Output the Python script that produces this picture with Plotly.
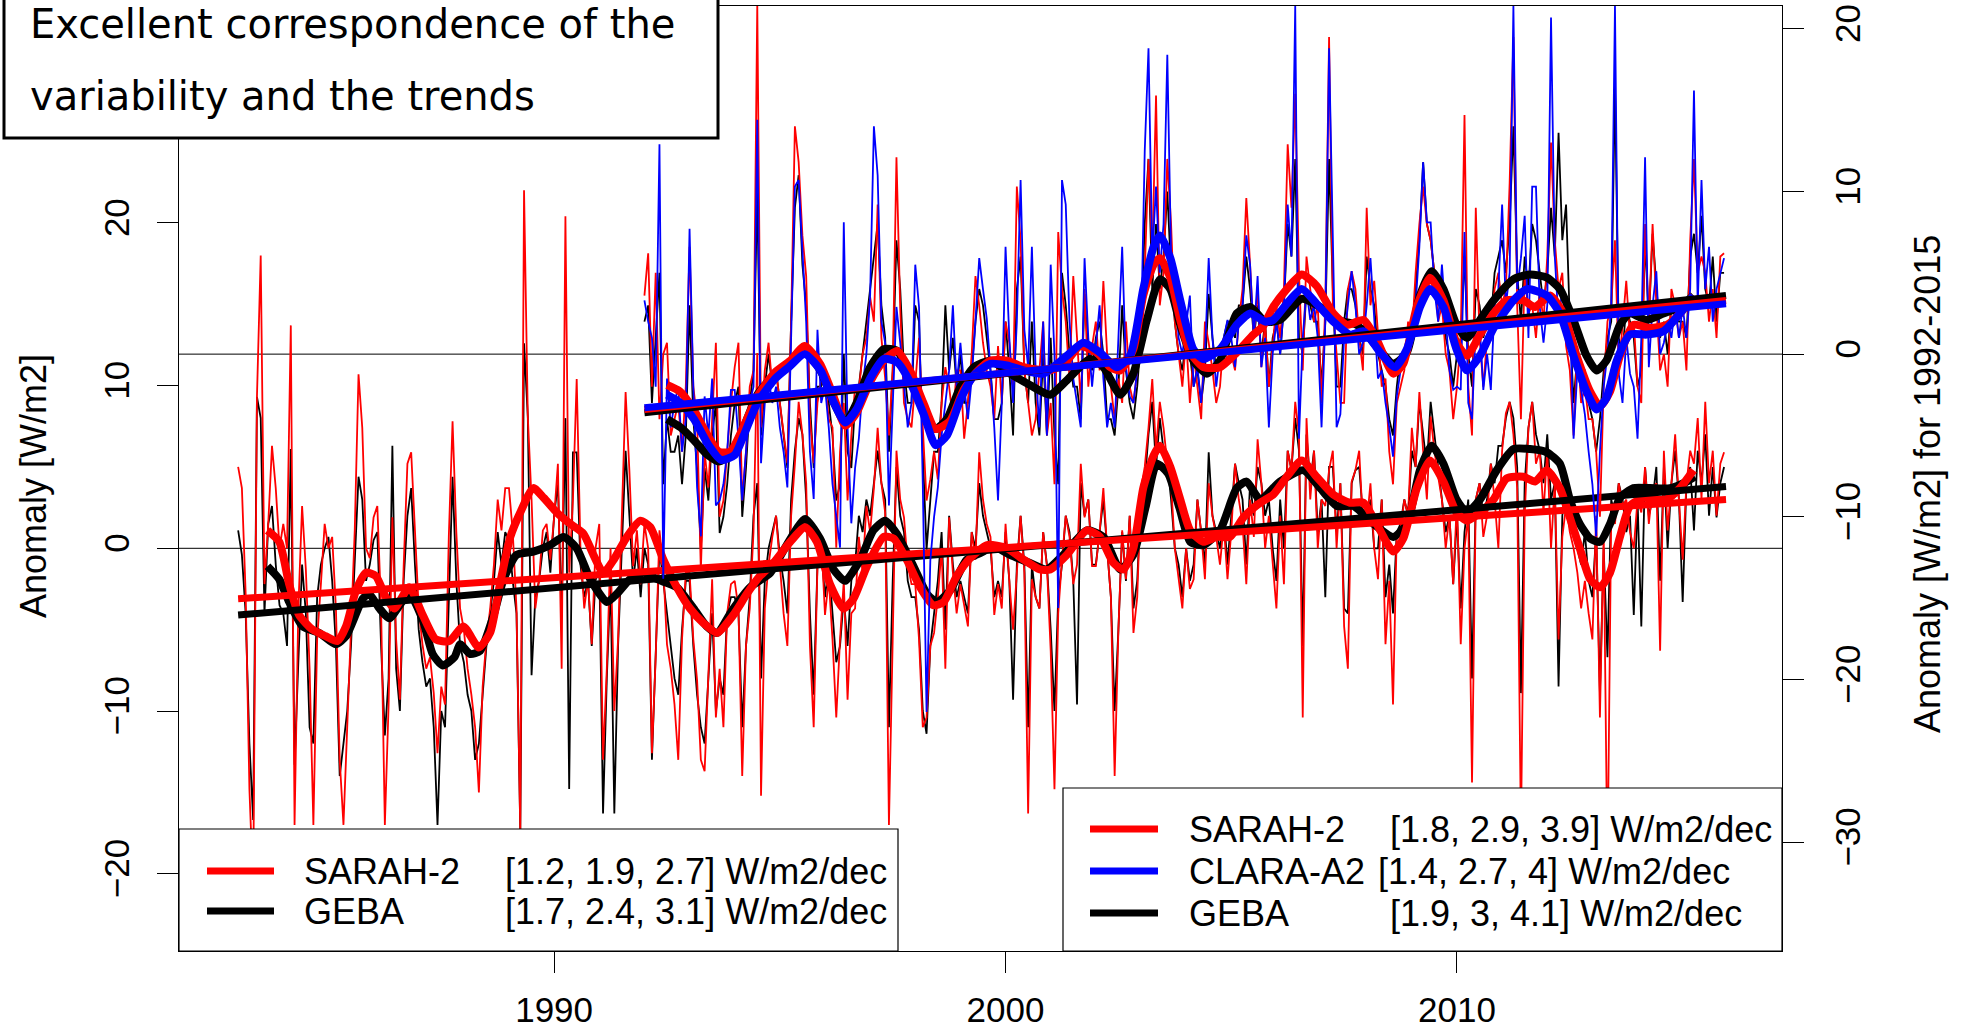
import plotly.graph_objects as go

# ---------------- data ----------------
LOW_START = 1983.0   # SARAH-2 / GEBA, left axis
UP_START = 1992.0    # SARAH-2 / CLARA-A2 / GEBA, right axis (anomaly for 1992-2015)

# monthly anomalies, one row per year (Jan..Dec), left axis
LOW_SARAH_ROWS = [
    [5.0, 3.7, -2.8, -14.8, -21.0, 9.3, 18.0, -2.2, 1.5, 6.3, 3.7, 0.0],
    [1.5, 0.0, 13.7, -17.0, -3.7, 2.6, -1.3, -7.4, -17.0, -5.6, -2.2, 1.5],
    [0.0, 0.7, -3.7, -13.0, -17.0, -11.0, -5.6, 1.1, 10.7, 7.4, 0.0, -0.6],
    [1.9, 2.6, -3.7, -17.0, -9.6, 1.9, -5.6, -9.3, -1.1, 5.2, 5.9, 1.5],
    [-3.7, -5.9, -7.4, -6.7, -8.9, -12.6, -8.5, -9.6, 0.7, 7.8, 1.0, -3.7],
    [-5.0, -7.4, -9.0, -11.0, -15.0, -8.5, -5.6, -3.7, -1.0, 3.0, 1.1, 3.7],
    [3.7, 1.0, -3.7, -17.4, 22.0, 8.1, 3.0, -3.7, -1.9, 1.1, 1.5, -0.7],
    [1.9, 5.2, -7.4, 20.4, -1.5, 3.0, 10.4, 0.0, -3.7, -1.9, -5.9, 0.0],
    [1.5, -13.0, -7.4, 0.0, -10.0, -5.6, 2.2, 9.6, 4.8, -1.1, 1.1, -2.2],
    [1.5, 0.0, -12.6, -6.7, 1.1, -1.1, -5.9, -7.4, -9.6, -13.0, -5.6, -1.5],
    [-1.5, -5.6, -8.1, -13.0, -13.7, -7.4, -1.9, -10.4, -7.4, -11.0, -4.0, -2.2],
    [-2.0, -3.7, -14.0, -6.0, -3.7, 1.0, 12.0, -15.2, -3.7, -1.0, 0.7, 2.0],
    [-1.0, -4.0, -6.0, 2.0, 5.2, 9.0, 7.0, 4.0, -6.0, -11.0, -1.1, 0.7],
    [-4.1, -1.9, -5.6, -10.4, -5.6, -2.0, -9.3, -4.0, -3.7, 0.7, -1.5, 2.6],
    [1.0, 3.7, 7.4, 4.0, 2.2, -17.0, -5.6, 6.0, 3.0, 1.9, -1.0, -2.2],
    [-2.2, -5.6, -11.0, -10.4, -6.0, -5.2, -3.0, 0.0, -7.4, 1.9, -1.5, -4.0],
    [-2.2, -3.5, -4.8, 1.0, -0.7, 5.9, 3.0, 1.5, 0.7, -4.1, -2.2, -3.7],
    [1.5, -2.0, -5.0, -1.5, 2.0, -1.5, -16.3, -1.9, -3.0, -3.7, 1.0, -1.1],
    [-6.3, -14.8, -4.0, -0.7, 2.0, 0.7, -2.2, -1.0, 5.2, 1.9, 3.0, -1.1],
    [-1.1, 1.0, 3.7, 0.0, -3.0, -14.0, -5.0, 1.1, -1.9, 2.0, -5.2, -3.0],
    [3.7, 5.0, 7.4, 10.4, 6.0, 9.0, 7.4, 5.2, 4.0, 0.0, -2.0, -3.7],
    [0.0, -2.5, -1.9, 3.0, 1.0, -1.9, 4.0, 2.0, 0.7, -1.0, 1.5, -1.9],
    [1.0, 5.2, 3.0, 1.5, -2.2, 3.0, 0.7, 6.7, 4.0, 0.0, 2.0, -1.0],
    [-3.7, 2.0, -2.2, 6.0, 4.8, 9.0, 7.0, -10.4, 8.0, 3.0, 6.0, 0.0],
    [3.0, 2.6, 4.8, 6.0, 0.0, 4.0, -4.8, -7.4, 4.1, 4.8, 6.0, 1.5],
    [1.5, 4.0, 0.0, -1.9, 3.0, -5.9, -2.0, -9.6, 1.0, 1.1, 3.0, 2.0],
    [7.4, 5.0, 9.6, 6.0, 3.0, 8.1, 6.0, 4.4, 3.0, 0.0, 2.0, -2.2],
    [3.0, -5.9, 0.0, 2.0, -14.4, 3.0, 4.0, 0.7, 2.0, 5.2, 3.0, 0.0],
    [6.0, 8.3, 9.0, 7.0, 3.7, -17.4, 2.0, 7.4, 9.0, 5.2, 6.0, 2.2],
    [6.0, 0.0, 4.0, -5.6, 0.7, 2.6, 1.0, 0.0, -1.5, -3.7, -2.0, -4.0],
    [-5.6, 2.0, -10.4, 1.0, -20.0, 1.9, 1.5, 4.0, 2.6, 3.0, 1.0, 0.0],
    [3.0, 2.2, 5.0, 1.5, 3.7, 4.0, -6.3, 6.0, 1.1, 4.0, 7.0, 3.0],
    [-0.7, 4.0, 6.0, 5.2, 8.0, 3.0, 9.0, 4.0, 6.0, 2.0, 5.2, 5.9],
]
LOW_GEBA_ROWS = [
    [1.1, -0.4, -4.0, -12.0, -16.7, 9.3, 8.0, -4.0, 1.5, 2.6, -1.0, -3.5],
    [-4.0, -6.0, 6.1, -13.3, -7.0, -1.0, -4.0, -11.0, -12.0, -3.0, -1.0, 0.0],
    [0.7, -2.0, -6.0, -14.0, -12.0, -10.0, -6.0, -1.0, 4.4, 3.0, -2.0, -1.0],
    [0.5, 1.0, -6.0, -11.5, -8.0, 6.3, -7.4, -10.0, -2.0, 2.0, 3.7, -1.0],
    [-5.0, -7.0, -8.5, -8.0, -11.0, -17.0, -10.0, -11.0, -3.0, 4.4, -2.0, -6.0],
    [-7.0, -9.0, -10.0, -13.0, -12.0, -9.0, -6.0, -4.0, -2.0, 1.0, -1.0, 1.0],
    [0.5, -2.0, -4.0, -17.4, 12.6, 8.1, -7.8, -3.0, -2.0, 0.0, 1.0, -1.5],
    [2.0, 4.0, -4.0, 8.0, -14.8, 5.9, 5.9, -1.0, -3.0, -2.0, -6.0, -2.0],
    [-1.0, -16.3, -8.0, -2.0, -16.3, -6.0, 0.0, 6.0, 2.0, -2.0, 0.0, -3.0],
    [0.0, -1.0, -13.0, -6.0, 0.0, -2.0, -4.0, -6.0, -8.0, -9.0, -5.0, -2.0],
    [-2.0, -6.0, -9.0, -11.0, -12.0, -8.0, -4.0, -10.0, -8.0, -9.0, -4.0, -3.0],
    [-3.0, -4.0, -11.0, -6.0, -3.0, 2.0, 4.0, -8.0, -2.0, 0.0, 1.0, 2.0],
    [-0.5, -2.0, -4.0, 3.0, 6.0, 8.0, 7.0, 3.0, -4.0, -9.0, -1.0, 0.0],
    [-3.0, -1.0, -4.0, -7.0, -6.0, -3.0, -6.0, -2.0, -1.0, 2.0, 1.0, 3.0],
    [2.0, 4.0, 6.0, 4.0, 3.0, -11.0, -2.0, 5.0, 2.0, 1.0, -2.0, -3.0],
    [-3.0, -5.0, -10.0, -11.4, -6.0, -4.0, -2.0, 1.0, -5.0, 2.0, -1.0, -3.0],
    [-2.0, -3.0, -4.0, 1.0, 0.0, 4.0, 2.0, 1.0, 0.0, -3.0, -2.0, -3.0],
    [1.0, -2.0, -9.3, -1.0, 2.0, -1.0, -11.0, -1.0, -3.0, -3.7, 1.0, -1.0],
    [-5.0, -10.0, -3.0, -1.0, 2.0, 1.0, -2.0, -9.6, 4.0, 2.0, 3.0, -1.0],
    [-1.0, 1.0, 3.0, 0.0, -3.0, -10.0, -5.0, 1.0, -2.0, 2.0, -3.7, -2.0],
    [3.0, 4.0, 7.0, 9.0, 5.0, 8.0, 6.0, 5.2, 3.0, 0.0, -1.0, -3.0],
    [0.0, -2.0, -1.0, 3.0, 1.0, -1.0, 5.9, 2.0, 1.0, 0.0, 2.0, -1.0],
    [2.0, 5.2, 4.0, 3.0, -1.0, 4.0, 2.0, 5.0, 4.0, 2.0, 3.0, 0.0],
    [-2.0, 3.0, 0.0, 6.0, 4.8, 8.0, 6.0, -6.0, 7.0, 4.0, 6.0, 1.0],
    [3.0, -3.0, 5.0, 5.0, 1.0, 4.0, -3.7, -4.0, 4.0, 4.8, 5.0, 2.0],
    [1.5, 3.0, 0.0, 0.0, 3.0, -3.0, -1.0, -4.0, 1.0, 1.5, 3.0, 2.0],
    [6.0, 5.0, 9.0, 7.0, 5.0, 9.0, 7.0, 5.0, 3.0, 1.0, 2.0, -2.2],
    [2.0, -3.7, 1.0, 3.0, -8.0, 3.0, 4.0, 2.0, 3.0, 5.2, 4.0, 6.3],
    [6.3, 8.0, 9.0, 8.0, 5.0, -8.9, 4.0, 7.4, 9.0, 7.0, 6.0, 4.0],
    [7.0, 3.0, 4.0, -8.5, 2.0, 4.0, 1.5, 1.0, 0.0, -1.0, 1.0, -2.0],
    [-3.0, 1.0, -8.9, 0.0, -6.7, 3.0, 2.0, 4.0, 3.0, 1.0, 2.0, -4.1],
    [3.0, -4.8, 5.0, 2.0, 3.0, 5.0, -2.0, 5.0, 0.0, 4.0, 6.0, 3.0],
    [-3.3, 4.0, 5.0, 1.1, 6.0, 4.0, 7.0, 2.0, 5.0, 1.9, 4.0, 5.0],
]
# monthly anomalies, right axis
UP_SARAH_ROWS = [
    [3.6, 6.2, -2.0, 5.0, -4.0, 0.0, 0.7, -5.0, -4.0, -3.0, -6.0, -2.0],
    [6.6, -2.0, -4.0, -13.3, -6.0, -8.2, -4.0, 0.7, -10.0, -9.0, -6.0, -3.0],
    [-0.8, 0.7, -9.0, -6.0, -2.0, -1.0, 21.5, -4.5, -1.0, 0.7, -2.0, -1.0],
    [-3.0, -5.0, -6.7, 2.0, 14.0, 11.8, 7.3, 4.8, -4.0, -6.7, -3.0, -1.5],
    [-1.5, -4.0, -4.5, -11.9, -6.0, -3.0, -9.0, -5.0, -2.0, -2.2, 0.0, 1.0],
    [3.5, 2.0, 9.2, 1.0, -1.5, -5.0, -1.0, 12.1, 2.8, -3.0, -4.0, -4.5],
    [-2.0, 1.0, -4.5, -9.0, -7.7, -6.0, -7.7, -3.0, -0.8, -2.0, -4.0, -1.0],
    [-1.0, -5.2, -3.0, 0.0, 4.8, 3.0, 0.7, -1.0, -2.0, -4.0, 0.5, -3.0],
    [2.0, 0.7, -2.0, 10.3, 7.0, -1.0, -3.0, -5.0, -4.0, -1.0, 2.0, -5.0],
    [-3.0, -8.0, 7.5, 4.0, 2.0, -1.5, 4.8, 1.0, -3.0, 4.0, -2.0, 0.5],
    [2.0, -1.0, 4.5, 0.0, -2.0, -4.0, -1.5, -3.0, 2.0, -2.0, -3.0, -1.0],
    [0.0, 5.0, 12.0, 6.0, 15.9, 3.0, 5.0, 12.0, 8.0, 2.0, 0.0, -2.0],
    [1.0, -3.0, 0.0, -2.0, -4.0, 2.0, 0.7, -1.0, -3.0, -2.0, 1.0, -0.5],
    [0.0, -1.0, 2.0, 4.0, 9.6, 5.5, 1.0, 4.0, -0.8, 2.0, -2.0, 0.5],
    [3.0, 1.0, 4.0, 12.9, 9.0, 16.0, 5.0, -1.0, 6.0, 4.0, 2.0, 3.0],
    [-3.0, 3.0, 19.5, 3.0, 0.0, -3.0, -3.0, 4.0, 5.1, 4.0, 1.0, -1.0],
    [9.0, 3.0, 4.5, 1.0, -2.0, -1.5, -6.0, -8.0, -3.0, -2.0, -1.0, 2.0],
    [1.0, 5.0, 8.0, 10.3, 8.0, 7.0, 5.0, 2.0, 3.0, 0.0, -1.0, -4.0],
    [-2.0, 1.0, 14.7, -2.0, -5.0, 9.0, 1.0, -2.0, 1.0, 1.5, 4.0, 5.0],
    [3.0, 4.0, 10.5, 19.5, 3.0, -4.0, 5.0, 2.5, 3.0, 1.0, 4.0, 2.0],
    [6.0, 13.0, 7.0, 4.0, 5.0, 0.5, -1.0, -5.0, 0.5, -3.0, -2.0, -4.0],
    [-4.0, -6.0, -10.0, -2.0, 2.0, 3.0, 7.0, -1.0, 2.0, 4.5, 1.0, 2.0],
    [-2.0, -3.0, 8.0, 2.0, 8.0, 3.0, -1.0, 0.0, -2.0, 4.0, 3.0, 1.0],
    [2.0, -1.0, 7.0, 12.0, 5.0, 6.0, 5.0, 2.0, 4.0, 1.0, 6.0, 6.2],
]
UP_CLARA_ROWS = [
    [3.3, 2.0, 1.0, -2.0, 12.9, -13.8, -1.5, -4.5, -3.0, -2.0, -6.0, -4.0],
    [7.7, -2.0, -8.2, -11.2, -2.6, -5.0, -1.5, -9.3, -9.0, -8.0, -6.0, -2.2],
    [-2.2, -5.2, -9.0, -6.0, -3.0, -2.0, 14.4, -6.7, -3.0, -1.5, -3.0, -2.0],
    [-4.5, -6.0, -8.2, 1.0, 10.3, 10.7, 6.6, 2.0, -6.0, -8.9, 1.5, -3.0],
    [-2.0, -4.5, -8.0, -10.0, -11.9, 8.1, -4.5, -10.4, -7.0, -5.2, -2.0, 0.0],
    [3.6, 14.0, 11.0, 2.0, 0.7, -9.3, -3.0, 2.9, 0.7, -2.0, -4.5, -3.0],
    [5.5, 2.9, -8.0, -22.0, -12.7, -10.0, -8.2, -5.0, -3.0, -1.0, 3.0, -2.0],
    [0.7, -2.0, -4.0, -1.5, 2.0, 5.9, 4.0, 2.2, -1.0, -4.5, -9.0, -3.0],
    [6.6, 1.0, -3.0, 2.0, 10.7, 1.5, -0.8, 6.6, -1.0, -4.5, 2.0, -5.0],
    [5.5, 0.0, -15.6, 10.7, 9.2, 2.0, -1.5, -3.0, -4.5, 5.9, 1.0, -2.0],
    [0.7, 3.0, -1.5, -4.5, -3.0, -4.5, 1.0, 6.6, -0.8, -2.6, -3.0, -1.0],
    [1.0, 12.5, 18.8, 6.0, 10.3, 5.0, 8.0, 18.4, 6.0, 4.8, 1.0, 0.0],
    [2.0, 3.6, -2.0, -0.8, -3.0, -0.1, 5.9, 1.0, -2.0, 0.0, 1.0, 2.1],
    [1.0, -0.8, 2.0, 3.0, 7.3, 5.5, 1.0, 4.8, -0.8, 1.0, -4.5, 0.0],
    [2.0, 0.0, 3.0, 9.2, 6.0, 21.4, -5.2, 1.0, 4.0, 2.1, 3.0, 1.0],
    [-4.5, 2.0, 18.8, 6.6, -4.5, -3.7, 1.0, 3.0, 5.1, 3.0, 0.0, 0.7],
    [3.0, 5.9, 2.0, -1.5, -1.0, -3.0, -4.5, -6.3, -2.6, -1.0, 0.0, 0.7],
    [0.7, 3.0, 6.6, 11.8, 8.1, 8.1, 4.0, 2.0, 5.5, 2.2, -1.0, -2.2],
    [-2.0, -2.2, 7.5, -3.0, -4.0, 1.8, 2.0, -2.2, 0.0, -2.2, 3.0, 4.0],
    [9.2, 3.0, 5.0, 21.4, 4.0, 5.9, 8.5, 1.0, 10.3, 10.3, 2.9, 0.7],
    [3.0, 20.7, 6.0, 2.0, 4.0, 1.4, 2.5, -5.2, -1.0, -2.2, -3.7, -6.0],
    [-8.0, -11.2, -6.0, -2.0, 0.0, 3.0, 21.4, -1.2, -3.0, 1.0, -1.2, -2.0],
    [-5.2, 1.0, 12.1, -0.8, 3.0, 5.1, 0.0, 0.7, 2.0, 1.0, 3.0, 1.0],
    [2.9, 1.0, 4.0, 16.2, 3.0, 10.7, 4.0, 6.6, 2.0, 4.0, 5.0, 5.9],
]
UP_GEBA_ROWS = [
    [2.0, 3.0, -3.0, 1.0, 5.0, -8.0, -4.0, -6.0, -6.0, -5.0, -8.0, -5.0],
    [3.0, -4.0, -7.0, -12.0, -7.0, -9.0, -5.0, -3.0, -11.0, -10.0, -8.0, -5.0],
    [-3.0, -2.0, -10.0, -7.0, -3.0, -1.0, 10.0, -5.0, -2.0, 0.0, -2.0, -1.0],
    [-3.0, -5.0, -7.0, 2.0, 9.0, 11.0, 5.5, 3.0, -3.0, -7.0, -2.0, -2.0],
    [-1.0, -3.0, -5.0, -9.0, -8.0, 0.0, -6.0, -7.0, -3.0, -2.0, 0.0, 2.0],
    [4.0, 6.0, 8.0, 3.0, 1.0, -6.0, -1.0, 7.0, 4.0, -1.0, -3.0, -3.0],
    [3.0, 2.0, -6.0, -12.0, -9.0, -6.0, -6.0, -3.0, 3.0, -1.0, 1.0, -2.0],
    [0.0, -3.0, -3.0, -1.0, 2.0, 4.0, 3.0, 1.0, -1.0, -4.0, -4.0, -3.0],
    [2.0, -1.0, -5.0, 4.0, 6.0, -1.0, -3.0, 2.0, -3.0, -5.0, 0.0, -5.0],
    [1.0, -5.0, -8.0, 5.0, 3.0, 0.0, -2.0, -2.0, -4.0, 3.7, 0.0, -1.0],
    [1.0, 2.0, 0.0, -4.0, -4.0, -5.0, -2.0, 3.0, -1.0, -3.0, -4.0, -2.0],
    [1.0, 8.0, 12.0, 4.0, 8.0, 4.0, 6.0, 10.0, 5.0, 2.0, 0.0, -1.0],
    [1.0, 0.0, -2.0, -1.0, -3.0, -1.0, 3.7, 1.0, -1.0, 0.0, 1.0, 2.0],
    [2.0, 1.0, 3.0, 3.0, 6.0, 4.0, 1.0, 3.0, 0.0, 2.0, -2.0, 1.0],
    [2.0, 0.0, 3.0, 8.0, 6.0, 12.0, 1.0, 0.0, 4.0, 3.0, 2.0, 2.0],
    [-2.0, 2.0, 12.0, 4.0, -2.0, -2.0, 2.0, 4.0, 4.0, 3.0, 1.0, 0.0],
    [6.0, 4.0, 3.0, 0.0, -1.0, -2.0, -4.0, -5.0, -2.0, 0.0, 0.0, 1.0],
    [1.0, 4.0, 7.0, 11.8, 8.0, 7.0, 5.0, 3.0, 4.0, 1.0, 0.0, -2.0],
    [0.0, 1.0, 6.0, 0.0, -2.0, 4.0, 3.0, 1.0, 2.0, 2.0, 5.0, 6.0],
    [7.0, 5.0, 8.0, 14.0, 5.0, 2.0, 6.0, 4.0, 8.0, 7.0, 5.0, 3.0],
    [5.0, 9.0, 6.0, 13.6, 7.0, 9.2, 2.0, -3.0, 0.0, -1.0, -1.0, -3.0],
    [-4.0, -6.0, -4.0, -1.0, 1.0, 2.0, 16.6, 1.0, 0.0, 3.0, 2.0, 1.0],
    [-2.0, -1.0, 7.0, 2.0, 7.4, 4.0, 1.0, 2.0, 0.0, 3.0, 3.0, 2.0],
    [2.0, 1.0, 6.0, 7.4, 5.0, 8.5, 4.0, 3.0, 6.0, 2.0, 5.0, 5.0],
]

# smoothed curves (year, value)
LOW_SARAH_SMOOTH = [
    (1983.65, 1.1), (1983.91, 0.4), (1984.13, -2.2), (1984.35, -4.1), (1984.65, -5.0), (1984.94, -5.4),
    (1985.2, -5.7), (1985.39, -4.8), (1985.61, -2.6), (1985.83, -1.5), (1986.05, -1.7), (1986.27, -3.0),
    (1986.46, -3.7), (1986.79, -2.4), (1987.09, -4.1), (1987.38, -5.6), (1987.68, -5.7), (1987.99, -4.8),
    (1988.33, -6.1), (1988.58, -5.2), (1988.8, -2.2), (1989.03, 0.7), (1989.25, 2.2), (1989.54, 3.7),
    (1989.77, 3.1), (1990.06, 2.2), (1990.36, 1.5), (1990.65, 0.9), (1990.87, -0.4), (1991.09, -1.5),
    (1991.32, -0.7), (1991.61, 0.7), (1991.91, 1.7), (1992.13, 1.3), (1992.42, -0.7), (1992.72, -2.4),
    (1993.01, -3.7), (1993.31, -4.6), (1993.61, -5.2), (1993.97, -4.1), (1994.27, -2.8), (1994.56, -1.7),
    (1994.86, -0.9), (1995.23, 0.4), (1995.56, 1.3), (1995.82, 0.4), (1996.11, -2.2), (1996.41, -3.7),
    (1996.63, -3.1), (1996.93, -1.1), (1997.3, 0.7), (1997.52, 0.6), (1997.81, -0.7), (1998.11, -2.4),
    (1998.4, -3.5), (1998.63, -3.3), (1998.92, -1.7), (1999.22, -0.6), (1999.59, 0.2), (2000.03, 0.0),
    (2000.4, -0.7), (2000.76, -1.3), (2000.99, -1.3), (2001.36, -0.4), (2001.8, 1.1), (2002.09, 0.7),
    (2002.39, -0.9), (2002.61, -1.3), (2002.83, 0.0), (2003.05, 3.7), (2003.28, 5.7), (2003.42, 6.3),
    (2003.65, 5.0), (2003.87, 3.0), (2004.09, 1.1), (2004.38, 0.4), (2004.68, 0.7), (2004.97, 0.7),
    (2005.27, 1.9), (2005.64, 2.8), (2005.93, 3.3), (2006.23, 4.4), (2006.56, 5.4), (2006.89, 4.4),
    (2007.26, 3.3), (2007.63, 2.8), (2007.93, 2.8), (2008.22, 1.5), (2008.59, -0.2), (2008.81, 0.6),
    (2009.11, 3.7), (2009.4, 5.4), (2009.7, 4.1), (2009.99, 2.2), (2010.22, 1.7), (2010.51, 2.2),
    (2010.81, 3.0), (2011.1, 4.3), (2011.47, 4.4), (2011.73, 4.1), (2011.99, 4.8), (2012.28, 3.7),
    (2012.5, 1.9), (2012.72, 0.0), (2012.95, -1.9), (2013.17, -2.4), (2013.39, -1.5), (2013.61, 0.7),
    (2013.83, 2.6), (2014.13, 3.1), (2014.42, 3.0), (2014.65, 3.0), (2014.94, 3.7), (2015.24, 4.8),
]
LOW_GEBA_SMOOTH = [
    (1983.65, -1.1), (1983.91, -1.9), (1984.13, -3.3), (1984.43, -4.8), (1984.8, -5.2), (1985.16, -5.9),
    (1985.39, -5.4), (1985.76, -3.1), (1985.9, -2.8), (1986.13, -3.7), (1986.35, -4.3), (1986.79, -2.8),
    (1987.09, -4.4), (1987.31, -6.5), (1987.53, -7.2), (1987.79, -6.7), (1987.92, -5.9), (1988.14, -6.5),
    (1988.36, -6.3), (1988.66, -4.1), (1988.88, -1.9), (1989.17, -0.4), (1989.54, -0.2), (1989.91, 0.2),
    (1990.21, 0.7), (1990.5, 0.0), (1990.8, -1.9), (1991.17, -3.3), (1991.39, -2.8), (1991.68, -1.9),
    (1991.98, -1.5), (1992.28, -1.9), (1992.72, -2.4), (1993.09, -3.7), (1993.38, -4.8), (1993.61, -5.2),
    (1993.97, -3.7), (1994.34, -2.4), (1994.79, -1.5), (1995.15, 0.2), (1995.56, 1.8), (1995.89, 0.6),
    (1996.19, -1.3), (1996.45, -2.0), (1996.78, -0.7), (1997.07, 1.1), (1997.33, 1.7), (1997.59, 0.9),
    (1997.96, -1.1), (1998.26, -2.8), (1998.48, -3.3), (1998.77, -2.6), (1999.14, -0.7), (1999.51, -0.2),
    (1999.66, 0.2), (2000.1, -0.4), (2000.54, -0.9), (2000.91, -1.3), (2001.28, -0.4), (2001.8, 1.1),
    (2002.17, 0.7), (2002.54, -1.3), (2002.83, -0.4), (2003.1, 2.5), (2003.35, 5.2), (2003.6, 4.6),
    (2003.85, 2.5), (2004.09, 0.4), (2004.38, 0.2), (2004.75, 1.1), (2005.12, 3.7), (2005.34, 4.1),
    (2005.64, 3.0), (2006.08, 4.1), (2006.6, 4.8), (2006.97, 3.7), (2007.34, 2.6), (2007.71, 2.6),
    (2008.15, 1.5), (2008.59, 0.7), (2008.89, 1.5), (2009.18, 4.8), (2009.44, 6.3), (2009.7, 5.2),
    (2009.99, 3.0), (2010.22, 2.2), (2010.51, 3.0), (2010.88, 4.8), (2011.25, 6.1), (2011.62, 6.1),
    (2011.99, 5.9), (2012.28, 5.2), (2012.5, 3.0), (2012.72, 1.5), (2012.95, 0.6), (2013.17, 0.4),
    (2013.39, 1.5), (2013.61, 3.1), (2013.91, 3.7), (2014.28, 3.7), (2014.72, 3.7), (2015.09, 4.1),
    (2015.27, 4.4),
]
UP_SARAH_SMOOTH = [
    (1992.5, -1.9), (1992.79, -2.3), (1993.09, -3.4), (1993.38, -4.9), (1993.65, -6.0), (1993.9, -6.0),
    (1994.19, -4.5), (1994.5, -2.6), (1994.9, -1.1), (1995.23, -0.4), (1995.55, 0.5), (1995.89, -0.6),
    (1996.19, -2.6), (1996.45, -4.4), (1996.7, -3.6), (1997.0, -1.7), (1997.3, -0.4), (1997.6, 0.2),
    (1997.9, -1.1), (1998.18, -3.0), (1998.45, -4.6), (1998.77, -4.1), (1999.07, -2.2), (1999.36, -1.1),
    (1999.66, -0.4), (2000.03, -0.4), (2000.4, -0.8), (2000.99, -1.0), (2001.36, -0.4), (2001.65, 0.5),
    (2002.02, 0.1), (2002.32, -0.8), (2002.54, -1.0), (2002.83, 0.3), (2003.05, 3.6), (2003.28, 5.5),
    (2003.42, 5.9), (2003.65, 4.7), (2003.87, 2.1), (2004.09, 0.1), (2004.38, -0.8), (2004.75, -0.8),
    (2005.12, 0.1), (2005.49, 1.2), (2005.7, 1.7), (2005.93, 2.9), (2006.23, 4.0), (2006.56, 4.9),
    (2006.89, 4.2), (2007.26, 2.5), (2007.56, 1.8), (2007.93, 2.1), (2008.22, 0.9), (2008.59, -1.2),
    (2008.81, -0.6), (2009.11, 2.9), (2009.4, 4.7), (2009.7, 3.3), (2009.99, 0.7), (2010.22, -0.1),
    (2010.51, 1.2), (2010.81, 2.5), (2011.1, 3.3), (2011.47, 3.3), (2011.73, 2.9), (2012.06, 3.6),
    (2012.36, 2.5), (2012.65, -0.1), (2012.95, -2.3), (2013.17, -3.2), (2013.39, -2.3), (2013.61, -0.1),
    (2013.91, 1.8), (2014.28, 1.6), (2014.65, 1.8), (2014.94, 2.5), (2015.24, 3.6),
]
UP_CLARA_SMOOTH = [
    (1992.5, -2.5), (1992.8, -3.0), (1993.1, -4.0), (1993.4, -5.5), (1993.7, -6.5), (1994.0, -6.2),
    (1994.2, -5.0), (1994.5, -3.0), (1994.9, -1.5), (1995.2, -0.8), (1995.55, 0.0), (1995.9, -1.0),
    (1996.2, -3.0), (1996.45, -4.2), (1996.7, -3.4), (1997.0, -1.5), (1997.3, -0.3), (1997.6, -0.5),
    (1997.9, -1.8), (1998.2, -3.8), (1998.45, -5.6), (1998.7, -5.0), (1999.0, -2.8), (1999.3, -1.3),
    (1999.66, -0.6), (2000.03, -0.7), (2000.4, -1.0), (2000.84, -1.2), (2001.36, -0.1), (2001.72, 0.7),
    (2002.09, 0.1), (2002.46, -0.8), (2002.76, -0.1), (2003.05, 4.0), (2003.28, 6.6), (2003.42, 7.3),
    (2003.65, 5.9), (2003.87, 3.3), (2004.16, 0.3), (2004.38, -0.3), (2004.75, 0.3), (2005.12, 1.8),
    (2005.42, 2.5), (2005.75, 2.0), (2005.93, 2.1), (2006.23, 3.1), (2006.56, 4.0), (2006.89, 3.1),
    (2007.26, 2.0), (2007.63, 1.2), (2007.93, 1.4), (2008.3, 0.1), (2008.63, -0.8), (2008.89, 0.3),
    (2009.18, 2.9), (2009.4, 4.0), (2009.7, 2.9), (2009.99, 0.3), (2010.22, -1.0), (2010.51, -0.1),
    (2010.81, 1.6), (2011.25, 3.3), (2011.55, 4.0), (2011.99, 3.6), (2012.28, 2.5), (2012.58, -0.1),
    (2012.87, -2.3), (2013.09, -3.4), (2013.31, -2.7), (2013.54, -0.4), (2013.83, 1.2), (2014.2, 1.2),
    (2014.57, 1.4), (2014.94, 2.5), (2015.24, 3.6),
]
UP_GEBA_SMOOTH = [
    (1992.5, -4.0), (1992.8, -4.5), (1993.1, -5.3), (1993.4, -6.2), (1993.65, -6.6), (1993.9, -6.2),
    (1994.2, -4.5), (1994.5, -2.5), (1994.9, -1.2), (1995.2, -0.6), (1995.5, 0.3), (1995.9, -1.0),
    (1996.2, -3.0), (1996.45, -4.2), (1996.7, -3.0), (1997.0, -0.8), (1997.3, 0.3), (1997.6, 0.2),
    (1997.9, -1.5), (1998.2, -3.5), (1998.45, -4.6), (1998.7, -4.0), (1999.0, -2.0), (1999.3, -0.8),
    (1999.66, -0.4), (2000.1, -1.2), (2000.54, -1.9), (2000.99, -2.5), (2001.36, -1.6), (2001.87, -0.3),
    (2002.17, -0.8), (2002.54, -2.5), (2002.83, -1.2), (2003.13, 2.1), (2003.42, 4.6), (2003.65, 4.0),
    (2003.87, 1.8), (2004.16, -0.4), (2004.46, -1.2), (2004.75, -0.4), (2005.12, 2.5), (2005.42, 2.9),
    (2005.75, 2.0), (2006.08, 2.1), (2006.56, 3.4), (2006.97, 2.9), (2007.34, 2.1), (2007.78, 1.8),
    (2008.22, 0.5), (2008.59, -0.6), (2008.89, 0.1), (2009.18, 3.6), (2009.44, 5.1), (2009.7, 4.0),
    (2009.99, 1.8), (2010.22, 1.0), (2010.51, 2.1), (2010.81, 3.3), (2011.25, 4.6), (2011.62, 4.9),
    (2011.99, 4.7), (2012.28, 4.0), (2012.58, 2.1), (2012.87, -0.1), (2013.09, -1.0), (2013.31, -0.4),
    (2013.61, 1.8), (2013.83, 2.5), (2014.2, 2.1), (2014.57, 2.5), (2014.94, 2.9), (2015.24, 3.6),
]

# linear trends: start / end year and values
LOW_TREND_X = [1983.0, 2015.96]
LOW_SARAH_TREND = [-3.1, 3.0]
LOW_GEBA_TREND = [-4.1, 3.8]
UP_TREND_X = [1992.0, 2015.96]
UP_SARAH_TREND = [-3.4, 3.3]
UP_CLARA_TREND = [-3.3, 3.1]
UP_GEBA_TREND = [-3.6, 3.6]

X_TICKS = [1990, 2000, 2010]
Y_LEFT_TICKS = [-20, -10, 0, 10, 20]
Y_RIGHT_TICKS = [-30, -20, -10, 0, 10, 20]

LEFT_LEGEND = [("SARAH-2", "[1.2, 1.9, 2.7] W/m2/dec", "#ff0000"),
               ("GEBA", "[1.7, 2.4, 3.1] W/m2/dec", "#000000")]
RIGHT_LEGEND = [("SARAH-2", "[1.8, 2.9, 3.9] W/m2/dec", "#ff0000"),
                ("CLARA-A2", "[1.4, 2.7, 4] W/m2/dec", "#0000ff"),
                ("GEBA", "[1.9, 3, 4.1] W/m2/dec", "#000000")]
NOTE_LINES = ["Excellent correspondence of the", "variability and the trends"]

RED, BLUE, BLACK = "#ff0000", "#0000ff", "#000000"


def flatten(rows):
    return [v for r in rows for v in r]


def months(start, n):
    return [start + i / 12.0 for i in range(n)]


fig = go.Figure()


def thin(rows, start, color, axis):
    y = flatten(rows)
    fig.add_trace(go.Scatter(x=months(start, len(y)), y=y, mode="lines", yaxis=axis,
                             line=dict(color=color, width=1.8), hoverinfo="skip", showlegend=False))


def thick(pairs, color, axis, width=8):
    fig.add_trace(go.Scatter(x=[p[0] for p in pairs], y=[p[1] for p in pairs], mode="lines", yaxis=axis,
                             line=dict(color=color, width=width, shape="spline", smoothing=0.6),
                             hoverinfo="skip", showlegend=False))


def trend(xs, ys, color, axis):
    fig.add_trace(go.Scatter(x=xs, y=ys, mode="lines", yaxis=axis, line=dict(color=color, width=7),
                             hoverinfo="skip", showlegend=False))


# thin monthly lines
thin(LOW_GEBA_ROWS, LOW_START, BLACK, "y")
thin(LOW_SARAH_ROWS, LOW_START, RED, "y")
thin(UP_GEBA_ROWS, UP_START, BLACK, "y2")
thin(UP_SARAH_ROWS, UP_START, RED, "y2")
thin(UP_CLARA_ROWS, UP_START, BLUE, "y2")
# smoothed
thick(LOW_GEBA_SMOOTH, BLACK, "y")
thick(LOW_SARAH_SMOOTH, RED, "y")
thick(UP_GEBA_SMOOTH, BLACK, "y2")
thick(UP_SARAH_SMOOTH, RED, "y2")
thick(UP_CLARA_SMOOTH, BLUE, "y2")
# trends
trend(LOW_TREND_X, LOW_GEBA_TREND, BLACK, "y")
trend(LOW_TREND_X, LOW_SARAH_TREND, RED, "y")
trend(UP_TREND_X, UP_GEBA_TREND, BLACK, "y2")
trend(UP_TREND_X, UP_SARAH_TREND, RED, "y2")
trend(UP_TREND_X, UP_CLARA_TREND, BLUE, "y2")

# ---------------- layout ----------------
W, H = 1961, 1031
L, R, T, B = 179, 179, 6, 80
PW, PH = W - L - R, H - T - B


def px(x):
    return (x - L) / PW


def py(y):
    return (H - B - y) / PH


FONT = "Liberation Sans, Arial, Helvetica, sans-serif"
tickfont = dict(family=FONT, size=35, color="black")
axis_common = dict(ticks="outside", ticklen=21, tickwidth=1, tickcolor="black", showline=True,
                   linecolor="black", linewidth=1, showgrid=False, zeroline=False, tickfont=tickfont,
                   automargin=False)

fig.update_layout(
    width=W, height=H, margin=dict(l=L, r=R, t=T, b=B, pad=0, autoexpand=False),
    paper_bgcolor="white", plot_bgcolor="white", showlegend=False,
    xaxis=dict(range=[1981.69, 2017.2], tickvals=X_TICKS, mirror=True, ticklabelstandoff=7, **axis_common),
    yaxis=dict(range=[-24.75, 33.33], tickvals=Y_LEFT_TICKS, tickangle=-90, mirror=True,
               ticklabelstandoff=14, **axis_common),
    yaxis2=dict(range=[-36.69, 21.40], tickvals=Y_RIGHT_TICKS, tickangle=-90, overlaying="y", side="right",
                ticklabelstandoff=14, **axis_common),
)

shapes = [
    dict(type="line", xref="paper", yref="y", x0=0, x1=1, y0=0, y1=0, line=dict(color="black", width=1),
         layer="below"),
    dict(type="line", xref="paper", yref="y2", x0=0, x1=1, y0=0, y1=0, line=dict(color="black", width=1),
         layer="below"),
    # legend boxes
    dict(type="rect", xref="paper", yref="paper", x0=px(179), x1=px(898), y0=py(951), y1=py(829),
         fillcolor="white", line=dict(color="black", width=1.2), layer="above"),
    dict(type="rect", xref="paper", yref="paper", x0=px(1063), x1=px(1782), y0=py(951), y1=py(788),
         fillcolor="white", line=dict(color="black", width=1.2), layer="above"),
    # note box
    dict(type="rect", xref="paper", yref="paper", x0=px(4), x1=px(718), y0=py(138), y1=py(-20),
         fillcolor="white", line=dict(color="black", width=3), layer="above"),
]
annotations = []
legfont = dict(family=FONT, size=36, color="black")
for i, (name, rng, col) in enumerate(LEFT_LEGEND):
    yy = 871 + 40 * i
    shapes.append(dict(type="line", xref="paper", yref="paper", x0=px(207), x1=px(274), y0=py(yy), y1=py(yy),
                       line=dict(color=col, width=7), layer="above"))
    annotations.append(dict(xref="paper", yref="paper", x=px(302), y=py(yy), text=name, showarrow=False,
                            xanchor="left", yanchor="middle", font=legfont))
    annotations.append(dict(xref="paper", yref="paper", x=px(503), y=py(yy), text=rng, showarrow=False,
                            xanchor="left", yanchor="middle", font=legfont))
for i, (name, rng, col) in enumerate(RIGHT_LEGEND):
    yy = 829 + 42 * i
    shapes.append(dict(type="line", xref="paper", yref="paper", x0=px(1090), x1=px(1158), y0=py(yy), y1=py(yy),
                       line=dict(color=col, width=7), layer="above"))
    annotations.append(dict(xref="paper", yref="paper", x=px(1187), y=py(yy), text=name, showarrow=False,
                            xanchor="left", yanchor="middle", font=legfont))
    annotations.append(dict(xref="paper", yref="paper", x=px(1376 if name == "CLARA-A2" else 1388), y=py(yy),
                            text=rng, showarrow=False, xanchor="left", yanchor="middle", font=legfont))

notefont = dict(family="DejaVu Sans, Verdana, sans-serif", size=40, color="black")
for i, line in enumerate(NOTE_LINES):
    annotations.append(dict(xref="paper", yref="paper", x=px(28), y=py(24 + 72 * i), text=line,
                            showarrow=False, xanchor="left", yanchor="middle", font=notefont))

titlefont = dict(family=FONT, size=36, color="black")
annotations.append(dict(xref="paper", yref="paper", x=px(33), y=py(486), text="Anomaly [W/m2]",
                        textangle=-90, showarrow=False, xanchor="center", yanchor="middle", font=titlefont))
annotations.append(dict(xref="paper", yref="paper", x=px(1927), y=py(484), text="Anomaly [W/m2] for 1992-2015",
                        textangle=-90, showarrow=False, xanchor="center", yanchor="middle", font=titlefont))

fig.update_layout(shapes=shapes, annotations=annotations)
fig.write_html("out.html")
